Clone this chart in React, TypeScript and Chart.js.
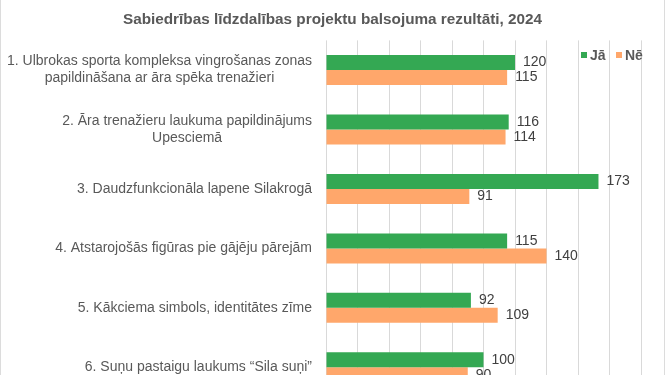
import React, { useEffect, useRef } from "react";
import { Chart, registerables } from "chart.js";

Chart.register(...registerables);

const TITLE = "Sabiedrības līdzdalības projektu balsojuma rezultāti, 2024";
const categories: string[][] = [
  ["1. Ulbrokas sporta kompleksa vingrošanas zonas", "papildināšana ar āra spēka trenažieri"],
  ["2. Āra trenažieru laukuma papildinājums", "Upesciemā"],
  ["3. Daudzfunkcionāla lapene Silakrogā"],
  ["4. Atstarojošās figūras pie gājēju pārejām"],
  ["5. Kākciema simbols, identitātes zīme"],
  ["6. Suņu pastaigu laukums “Sila suņi”"],
];
const seriesNames = ["Jā", "Nē"];
const yesValues = [120, 116, 173, 115, 92, 100];
const noValues = [115, 114, 91, 140, 109, 90];
const xTicks = { min: 0, max: 200, step: 20 };

const GREEN = "#34A853";
const ORANGE = "#FFA76B";
const TEXT = "#595959";
const FONT = '"Liberation Sans", Arial, sans-serif';

const labelPlugin = {
  id: "customLabels",
  afterDatasetsDraw(chart: any) {
    const ctx = chart.ctx;
    const area = chart.chartArea;
    const yScale = chart.scales.y;
    ctx.save();
    ctx.font = `14px ${FONT}`;
    ctx.fillStyle = TEXT;
    ctx.textBaseline = "middle";
    ctx.textAlign = "center";
    const right = area.left - 14;
    const lh = 17;
    categories.forEach((lines, i) => {
      const cy = yScale.getPixelForTick(i);
      const w = Math.max(...lines.map((l) => ctx.measureText(l).width));
      const cx = right - w / 2;
      lines.forEach((l, j) => {
        ctx.fillText(l, cx, cy - ((lines.length - 1) * lh) / 2 + j * lh);
      });
    });
    ctx.font = `14px ${FONT}`;
    ctx.fillStyle = "#404040";
    ctx.textAlign = "left";
    chart.data.datasets.forEach((ds: any, di: number) => {
      const meta = chart.getDatasetMeta(di);
      meta.data.forEach((el: any, i: number) => {
        ctx.fillText(String(ds.data[i]), el.x + 8, el.y);
      });
    });
    ctx.restore();
  },
};

export default function App() {
  const ref = useRef<HTMLCanvasElement>(null);
  useEffect(() => {
    if (!ref.current) return;
    const chart = new Chart(ref.current, {
      type: "bar",
      data: {
        labels: categories.map((c) => c.join(" ")),
        datasets: [
          {
            label: seriesNames[0],
            data: yesValues,
            backgroundColor: GREEN,
            categoryPercentage: 0.5042,
            barPercentage: 1,
          },
          {
            label: seriesNames[1],
            data: noValues,
            backgroundColor: ORANGE,
            categoryPercentage: 0.5042,
            barPercentage: 1,
          },
        ],
      },
      options: {
        indexAxis: "y",
        animation: false,
        responsive: true,
        maintainAspectRatio: false,
        layout: { padding: { left: 0, right: 0, top: 0, bottom: 0 } },
        plugins: {
          legend: { display: false },
          tooltip: { enabled: false },
          title: {
            display: true,
            text: TITLE,
            color: TEXT,
            font: { family: FONT, size: 15.3, weight: "bold", lineHeight: 1.2 },
            padding: { top: 11, bottom: 11 },
          },
        },
        scales: {
          x: {
            min: xTicks.min,
            max: xTicks.max,
            ticks: { display: false, stepSize: xTicks.step },
            grid: { color: "#d9d9d9", drawTicks: false },
            border: { display: false },
          },
          y: {
            ticks: { display: false },
            grid: { display: false, drawTicks: false },
            border: { display: false },
            afterFit: (scale: any) => {
              scale.width = 326;
            },
          },
          yRight: {
            position: "right",
            display: true,
            ticks: { display: false },
            grid: { display: false, drawTicks: false },
            border: { display: false },
            afterFit: (scale: any) => {
              scale.width = 24;
            },
          },
        },
      },
      plugins: [labelPlugin],
    });
    return () => chart.destroy();
  }, []);

  const legendText: React.CSSProperties = {
    position: "absolute",
    top: 46,
    font: `bold 14px ${FONT}`,
    color: TEXT,
    lineHeight: "18px",
  };
  const sq = (c: string, left: number): React.CSSProperties => ({
    position: "absolute",
    left,
    top: 52,
    width: 6,
    height: 6,
    background: c,
  });

  return (
    <div
      style={{
        position: "fixed",
        left: 0,
        top: 0,
        width: 665,
        height: 375,
        overflow: "hidden",
        background: "#fff",
        boxSizing: "border-box",
        borderLeft: "1px solid #dcdcdc",
        borderRight: "1px solid #dcdcdc",
      }}
    >
      <div style={{ position: "absolute", left: -1, top: 0, width: 665, height: 397 }}>
        <canvas ref={ref} />
      </div>
      <div style={sq(GREEN, 580)} />
      <div style={{ ...legendText, left: 589 }}>{seriesNames[0]}</div>
      <div style={sq(ORANGE, 615)} />
      <div style={{ ...legendText, left: 624 }}>{seriesNames[1]}</div>
    </div>
  );
}
